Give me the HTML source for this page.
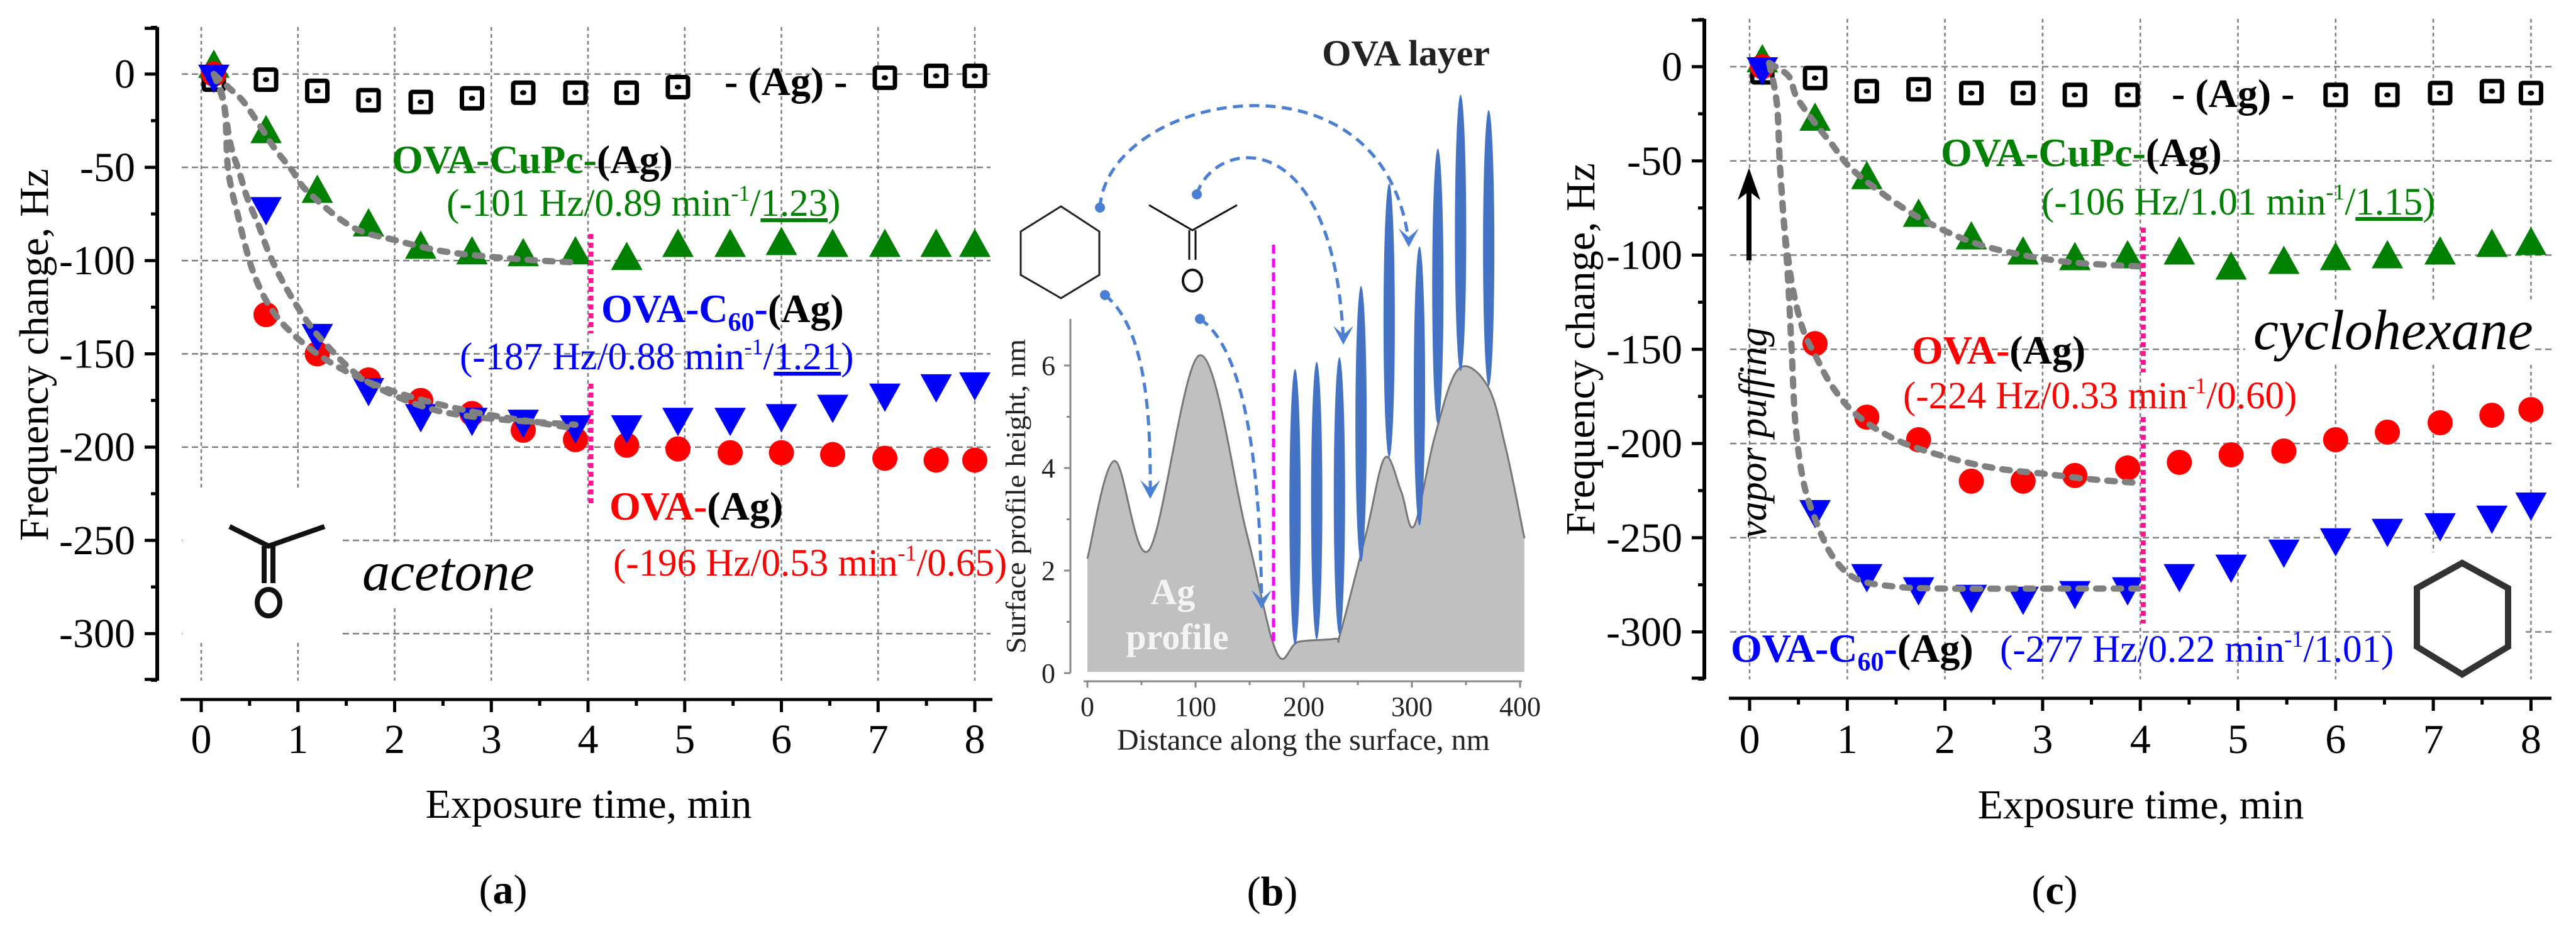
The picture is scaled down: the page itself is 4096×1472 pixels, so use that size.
<!DOCTYPE html>
<html><head><meta charset="utf-8"><title>QCM frequency response chart</title>
<style>html,body{margin:0;padding:0;background:#fff}svg{display:block;font-family:"Liberation Serif",serif}</style>
</head><body>
<svg id="fig" xmlns="http://www.w3.org/2000/svg" width="4096" height="1472" viewBox="0 0 4096 1472">
<rect width="4096" height="1472" fill="#fff"/>
<g id="gridA"></g>
<g id="gridC"></g>
<rect x="290" y="779" width="255" height="243" fill="#fff"/>
<rect x="3806" y="878" width="210" height="212" fill="#fff"/>
<g id="axesA"></g>
<g id="axesC"></g>
<g id="marksA"></g>
<g id="marksC"></g>
<g id="panelB"></g>

<g font-size="64">
<text x="1152" y="151" font-weight="bold">- (Ag) -</text>
<text x="623" y="275" font-weight="bold"><tspan fill="#008000">OVA-CuPc-</tspan>(Ag)</text>
<text x="710" y="343" font-size="61" fill="#008000">(-101 Hz/0.89 min<tspan font-size="36" dy="-24">-1</tspan><tspan dy="24">/</tspan><tspan text-decoration="underline">1.23</tspan>)</text>
<text x="956" y="512" font-weight="bold"><tspan fill="#0000ff">OVA-C</tspan><tspan fill="#0000ff" font-size="42" dy="14">60</tspan><tspan fill="#0000ff" dy="-14">-</tspan>(Ag)</text>
<text x="731" y="587" font-size="61" fill="#0000ff">(-187 Hz/0.88 min<tspan font-size="36" dy="-24">-1</tspan><tspan dy="24">/</tspan><tspan text-decoration="underline">1.21</tspan>)</text>
<text x="969" y="826" font-weight="bold"><tspan fill="#ff0000">OVA-</tspan>(Ag)</text>
<text x="975" y="915" font-size="61" fill="#ff0000">(-196 Hz/0.53 min<tspan font-size="36" dy="-24">-1</tspan><tspan dy="24">/0.65)</tspan></text>
<rect x="566" y="862" width="290" height="100" fill="#fff"/>
<text x="576" y="938" font-size="88" font-style="italic">acetone</text>
</g>
<g stroke="#111" fill="none" stroke-width="8">
<polyline points="365,837 427,868 516,837"/>
<line x1="420" y1="868" x2="420" y2="927"/><line x1="434" y1="868" x2="434" y2="927"/>
<ellipse cx="427" cy="958" rx="18" ry="21"/>
</g>
<text x="54" y="564" font-size="66" text-anchor="middle" transform="rotate(-90 54 564)" dy="22">Frequency change, Hz</text>
<text x="936" y="1300" font-size="66" text-anchor="middle">Exposure time, min</text>
<text x="800" y="1436" font-size="66" text-anchor="middle">(<tspan font-weight="bold">a</tspan>)</text>

<g font-size="64">
<text x="3453" y="170" font-weight="bold">- (Ag) -</text>
<text x="3086" y="264" font-weight="bold"><tspan fill="#008000">OVA-CuPc-</tspan>(Ag)</text>
<text x="3246" y="341" font-size="61" fill="#008000">(-106 Hz/1.01 min<tspan font-size="36" dy="-24">-1</tspan><tspan dy="24">/</tspan><tspan text-decoration="underline">1.15</tspan>)</text>
<rect x="3570" y="480" width="460" height="100" fill="#fff"/>
<text x="3583" y="555" font-size="90" font-style="italic">cyclohexane</text>
<text x="3040" y="578" font-weight="bold"><tspan fill="#ff0000">OVA-</tspan>(Ag)</text>
<text x="3026" y="649" font-size="61" fill="#ff0000">(-224 Hz/0.33 min<tspan font-size="36" dy="-24">-1</tspan><tspan dy="24">/0.60)</tspan></text>
<text x="2752" y="1052" font-weight="bold"><tspan fill="#0000ff">OVA-C</tspan><tspan fill="#0000ff" font-size="42" dy="14">60</tspan><tspan fill="#0000ff" dy="-14">-</tspan>(Ag)</text>
<text x="3180" y="1052" font-size="61" fill="#0000ff">(-277 Hz/0.22 min<tspan font-size="36" dy="-24">-1</tspan><tspan dy="24">/1.01)</tspan></text>
<text x="2808" y="688" font-size="62" font-style="italic" text-anchor="middle" transform="rotate(-90 2808 688)">vapor puffing</text>
</g>
<g>
<line x1="2781" y1="300" x2="2781" y2="414" stroke="#000" stroke-width="8"/>
<polygon points="2781,267 2799,318 2781,304 2763,318" fill="#000"/>
</g>
<polygon points="3915,895 3988,935 3988,1028 3915,1072 3843,1028 3843,935" fill="none" stroke="#333" stroke-width="10"/>
<text x="2513" y="555" font-size="66" text-anchor="middle" transform="rotate(-90 2513 555)" dy="22">Frequency change, Hz</text>
<text x="3404" y="1301" font-size="66" text-anchor="middle">Exposure time, min</text>
<text x="3267" y="1437" font-size="66" text-anchor="middle">(<tspan font-weight="bold">c</tspan>)</text>
<text x="2023" y="1439" font-size="66" text-anchor="middle">(<tspan font-weight="bold">b</tspan>)</text>
</svg>
<script>
const times = [0.13,0.67,1.2,1.73,2.27,2.8,3.33,3.87,4.4,4.93,5.47,6.0,6.53,7.07,7.6,8.0];
const agA   = [-3,-3,-9,-14,-15,-13,-10,-10,-10,-7,null,null,null,-2,-1,-1];
const cupcA = [3,-32,-64,-82,-94,-97,-98,-97,-100,-93,-93,-92,-93,-93,-93,-93];
const c60A  = [0,-71,-139,-168,-182,-184,-185,-188,-188,-184,-184,-182,-177,-171,-166,-165];
const ovaA  = [0,-129,-150,-164,-175,-182,-191,-196,-199,-201,-203,-203,-204,-206,-207,-207];
const agC   = [-3,-6,-13,-12,-14,-14,-15,-15,null,null,null,-15,-15,-14,-13,-14];
const cupcC = [2,-29,-60,-80,-92,-100,-103,-102,-100,-108,-105,-103,-102,-100,-96,-95];
const ovaC  = [0,-147,-186,-198,-220,-220,-217,-213,-210,-206,-204,-198,-194,-189,-185,-182];
const c60C  = [0,-235,-269,-276,-280,-281,-278,-276,-269,-264,-256,-250,-245,-242,-238,-231];
const fitCupcAT = [0.13,0.3,0.44,0.61,0.76,0.93,1.1,1.56,2.0,2.5,3.0,3.5,3.9];
const fitCupcAV = [0,-8,-15,-28,-40,-51,-63,-82,-89,-95,-98,-100,-101];
const fitC60AT  = [0.13,0.22,0.3,0.39,0.48,0.6,0.7,0.85,1.06,1.29,1.69,2.28,2.86,3.87];
const fitC60AV  = [0,-12,-37,-52,-67,-82,-96,-112,-130,-145,-164,-178,-184,-188];
const fitOvaAT  = [0.13,0.24,0.27,0.31,0.38,0.45,0.55,0.7,0.9,1.2,1.6,2.1,2.8,3.5,3.87];
const fitOvaAV  = [0,-18,-47,-61,-76,-91,-108,-124,-137,-150,-162,-172,-181,-187,-190];
const fitCupcCT = [0.2,0.4,0.48,0.67,0.84,1.02,1.3,1.73,2.27,2.8,3.33,4.0];
const fitCupcCV = [2,-5,-16,-30,-41,-53,-65,-80,-93,-100,-104,-106];
const fitC60CT  = [0.2,0.28,0.31,0.35,0.39,0.43,0.47,0.55,0.67,0.85,1.1,1.5,2.0,3.0,4.0];
const fitC60CV  = [2,-20,-52,-82,-110,-150,-190,-220,-240,-260,-272,-276,-277,-277,-277];
const fitOvaCT  = [0.2,0.28,0.31,0.35,0.39,0.45,0.55,0.67,0.85,1.1,1.5,2.0,2.5,3.0,3.5,4.0];
const fitOvaCV  = [2,-20,-52,-82,-100,-120,-140,-153,-170,-185,-198,-207,-213,-216,-219,-221];
const xTicks = [0,1,2,3,4,5,6,7,8];
const yTicks = [0,-50,-100,-150,-200,-250,-300];
const profNm = [0,25,57,104,147,175,195,229,234,258,275,290,302,321,343,370,387,404];
const profH  = [2.23,4.14,2.4,6.2,2.75,0.4,0.61,0.67,0.79,2.75,4.2,3.55,2.87,4.6,5.93,5.6,4.37,2.63];
const barNm  = [192,212,233,253,279,307,324,345,371];
const barTop = [5.93,6.07,6.16,7.55,9.55,8.32,10.23,11.28,10.98];
const barBot = [0.55,0.66,0.76,2.17,4.21,2.88,4.86,5.89,5.6];
const bXTicks = [0,100,200,300,400];
const bYTicks = [0,2,4,6];

const NS="http://www.w3.org/2000/svg";
function mk(parent,tag,attrs,text){const e=document.createElementNS(NS,tag);for(const k in attrs)e.setAttribute(k,attrs[k]);if(text!==undefined)e.textContent=text;parent.appendChild(e);return e;}
function smooth(pts){let d="M"+pts[0][0]+","+pts[0][1];for(let i=0;i<pts.length-1;i++){const p0=pts[Math.max(0,i-1)],p1=pts[i],p2=pts[i+1],p3=pts[Math.min(pts.length-1,i+2)];const c1=[p1[0]+(p2[0]-p0[0])/6,p1[1]+(p2[1]-p0[1])/6],c2=[p2[0]-(p3[0]-p1[0])/6,p2[1]-(p3[1]-p1[1])/6];d+=" C"+c1[0].toFixed(1)+","+c1[1].toFixed(1)+" "+c2[0].toFixed(1)+","+c2[1].toFixed(1)+" "+p2[0].toFixed(1)+","+p2[1].toFixed(1);}return d;}

function panel(cfg){
  const {x,y,grid,axes,marks,gx0,gx1,gy0,gy1,axX,axY0,axY1,axisY,axisX0,axisX1,lblX} = cfg;
  xTicks.forEach(t=>{const l=mk(grid,"line",{x1:x(t),x2:x(t),y1:gy0,y2:gy1,stroke:"#808080","stroke-width":2.5,"stroke-dasharray":"6,5"});
    
    });
  yTicks.forEach(v=>{const l=mk(grid,"line",{x1:gx0,x2:gx1,y1:y(v),y2:y(v),stroke:"#808080","stroke-width":2.5,"stroke-dasharray":"10,6"});
    
    });
  const ya=mk(axes,"line",{x1:axX,x2:axX,y1:axY0,y2:axY1,stroke:"#000","stroke-width":6});
  
  
  for(let v=25;v>=-325;v-=25){const major=(v%50===0);mk(axes,"line",{x1:axX-(major?20:10),x2:axX,y1:y(v),y2:y(v),stroke:"#000","stroke-width":5});}
  mk(axes,"line",{x1:axX-20,x2:axX,y1:axY0+2,y2:axY0+2,stroke:"#000","stroke-width":5});
  mk(axes,"line",{x1:axX-20,x2:axX,y1:axY1-2,y2:axY1-2,stroke:"#000","stroke-width":5});
  yTicks.forEach(v=>{const t=mk(axes,"text",{x:lblX,y:y(v)+22,"font-size":66,"text-anchor":"end"},String(v));
    
    });
  const xa=mk(axes,"line",{x1:axisX0,x2:axisX1,y1:axisY,y2:axisY,stroke:"#000","stroke-width":5});
  
  
  for(let t=0;t<=8;t+=0.5){const major=Number.isInteger(t);mk(axes,"line",{x1:x(t),x2:x(t),y1:axisY,y2:axisY+(major?20:10),stroke:"#000","stroke-width":5});}
  xTicks.forEach(t=>{const l=mk(axes,"text",{x:x(t),y:1197,"font-size":66,"text-anchor":"middle"},String(t));
    
    });
  cfg.ag.forEach((v,i)=>{if(v===null)return;const cx=x(times[i]),cy=y(v);const g=mk(marks,"g",{});
    
    
    mk(g,"rect",{x:cx-16,y:cy-16,width:32,height:32,fill:"#fff",stroke:"#000","stroke-width":7,rx:3});
    mk(g,"ellipse",{cx:cx,cy:cy,rx:5,ry:4,fill:"#000"});});
  cfg.cupc.forEach((v,i)=>{const cx=x(times[i]),cy=y(v);const p=mk(marks,"polygon",{points:`${cx},${cy-30} ${cx-25},${cy+15} ${cx+25},${cy+15}`,fill:"#008000"});
    
    });
  cfg.ova.forEach((v,i)=>{const c=mk(marks,"circle",{cx:x(times[i]),cy:y(v),r:20,fill:"#ff0000"});
    
    });
  cfg.c60.forEach((v,i)=>{const cx=x(times[i]),cy=y(v);const p=mk(marks,"polygon",{points:`${cx-25},${cy-15} ${cx+25},${cy-15} ${cx},${cy+30}`,fill:"#0000ff"});
    
    });
  cfg.fits.forEach(f=>{const pts=f[0].map((t,i)=>[x(t),y(f[1][i])]);const p=mk(marks,"path",{d:smooth(pts),fill:"none",stroke:"#808080","stroke-width":10,"stroke-linecap":"round","stroke-dasharray":"12,16"});
    
    });
  const m1=mk(marks,"line",{x1:x(4.03),x2:x(4.03),y1:cfg.mag[0],y2:cfg.mag[1],stroke:"#ff1493","stroke-width":8,"stroke-dasharray":"8,6"});
  
  
  const m2=mk(marks,"line",{x1:x(4.03),x2:x(4.03),y1:cfg.mag[2],y2:cfg.mag[3],stroke:"#ff1493","stroke-width":8,"stroke-dasharray":"8,6"});
  
  
}
const xA=t=>320+t*153.75, yA=v=>117.7-v*2.965;
const xC=t=>2782+t*155.3, yC=v=>106-v*2.995;
panel({x:xA,y:yA,grid:document.getElementById("gridA"),axes:document.getElementById("axesA"),marks:document.getElementById("marksA"),
  gx0:289,gx1:1575,gy0:43,gy1:1082,axX:250,axY0:43,axY1:1082,axisY:1112,axisX0:287,axisX1:1578,lblX:215,
  ag:agA,cupc:cupcA,ova:ovaA,c60:c60A,fits:[[fitCupcAT,fitCupcAV],[fitC60AT,fitC60AV],[fitOvaAT,fitOvaAV]],mag:[372,530,610,800]});
panel({x:xC,y:yC,grid:document.getElementById("gridC"),axes:document.getElementById("axesC"),marks:document.getElementById("marksC"),
  gx0:2751,gx1:4057,gy0:30,gy1:1080,axX:2710,axY0:30,axY1:1080,axisY:1110,axisX0:2749,axisX1:4057,lblX:2675,
  ag:agC,cupc:cupcC,ova:ovaC,c60:c60C,fits:[[fitCupcCT,fitCupcCV],[fitC60CT,fitC60CV],[fitOvaCT,fitOvaCV]],mag:[362,592,663,991]});

const B=document.getElementById("panelB");
const xB=n=>1729+n*1.72, yB=h=>1070-h*81.5;
const pp=profNm.map((n,i)=>[xB(n),yB(profH[i])]);
const prof=mk(B,"path",{d:smooth(pp)+` L${xB(404)},1068 L${xB(0)},1068 Z`,fill:"#c0c0c0",stroke:"none"});


const profL=mk(B,"path",{d:smooth(pp),fill:"none",stroke:"#777","stroke-width":3});


barNm.forEach((n,i)=>{const yt=yB(barTop[i]),yb=yB(barBot[i]);const r=mk(B,"ellipse",{cx:xB(n),cy:(yt+yb)/2,rx:9,ry:(yb-yt)/2,fill:"#4472c4"});
  
  });
const mg=mk(B,"line",{x1:2025,x2:2025,y1:389,y2:1025,stroke:"#ff00ff","stroke-width":5,"stroke-dasharray":"14,8"});


const ax=mk(B,"g",{stroke:"#888","stroke-width":3});


mk(ax,"line",{x1:1702,x2:1702,y1:507,y2:1070});
mk(ax,"line",{x1:1723,x2:2420,y1:1083,y2:1083});
for(let h=0;h<=6;h++)mk(ax,"line",{x1:1702-(h%2?6:10),x2:1702,y1:yB(h),y2:yB(h)});
for(let n=0;n<=400;n+=50)mk(ax,"line",{x1:xB(n),x2:xB(n),y1:1083,y2:1083+(n%100?6:10)});
bXTicks.forEach(n=>{const t=mk(B,"text",{x:xB(n),y:1138,"font-size":44,"text-anchor":"middle",fill:"#222"},String(n));
  
  });
bYTicks.forEach(h=>{const t=mk(B,"text",{x:1678,y:yB(h)+15,"font-size":44,"text-anchor":"end",fill:"#222"},String(h));
  
  });
const bxT=mk(B,"text",{x:1776,y:1192,"font-size":48,fill:"#222",textLength:593,lengthAdjust:"spacingAndGlyphs"},"Distance along the surface, nm");


const byT=mk(B,"text",{x:0,y:0,"font-size":44,fill:"#222","text-anchor":"middle",transform:"translate(1630 789) rotate(-90)",textLength:500,lengthAdjust:"spacingAndGlyphs"},"Surface profile height, nm");


const ova=mk(B,"text",{x:2102,y:104,"font-size":58,"font-weight":"bold",fill:"#222",textLength:267,lengthAdjust:"spacingAndGlyphs"},"OVA layer");


const ag1=mk(B,"text",{x:1865,y:960,"font-size":58,"font-weight":"bold",fill:"#f4f4f4","text-anchor":"middle"},"Ag");


const ag2=mk(B,"text",{x:1872,y:1032,"font-size":58,"font-weight":"bold",fill:"#f4f4f4","text-anchor":"middle"},"profile");


const hex=mk(B,"polygon",{points:"1687,328 1748,368 1748,437 1687,474 1623,437 1623,368",fill:"none",stroke:"#222","stroke-width":3});


const acg=mk(B,"g",{stroke:"#111","stroke-width":3,fill:"none"});


mk(acg,"polyline",{points:"1827,326 1896,366 1967,326"});
mk(acg,"line",{x1:1891,x2:1891,y1:366,y2:413});mk(acg,"line",{x1:1901,x2:1901,y1:366,y2:413});
mk(acg,"ellipse",{cx:1896,cy:446,rx:15,ry:17,"stroke-width":4});
const arrows=[["M1749,330 C1760,150 2200,60 2240,385",2240,389],["M1903,309 C1930,220 2120,190 2136,540",2136,544],["M1757,469 C1820,520 1830,650 1829,785",1829,789],["M1908,507 C1990,560 2005,800 2006,960",2006,964]];
arrows.forEach(a=>{const g=mk(B,"g",{});
  
  
  const m=a[0].match(/M([\d.]+),([\d.]+)/);
  mk(g,"path",{d:a[0],fill:"none",stroke:"#4a7fd4","stroke-width":5,"stroke-dasharray":"16,10"});
  mk(g,"circle",{cx:m[1],cy:m[2],r:8,fill:"#4a7fd4"});
  mk(g,"polygon",{points:`${a[1]-16},${a[2]-26} ${a[1]},${a[2]-12} ${a[1]+16},${a[2]-26} ${a[1]},${a[2]+4}`,fill:"#4a7fd4"});});
</script>
</body></html>
